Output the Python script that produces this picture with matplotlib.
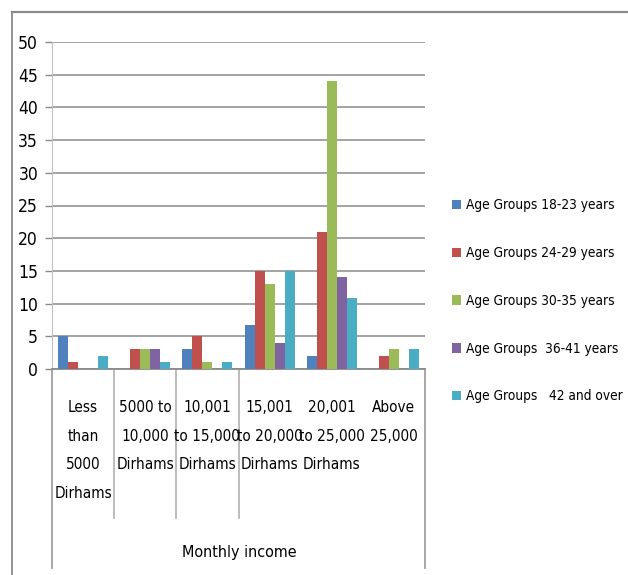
import os
import matplotlib
matplotlib.use("Agg")
import matplotlib.pyplot as plt
from matplotlib import font_manager
from matplotlib.font_manager import FontProperties
from matplotlib.patches import Patch
from matplotlib.lines import Line2D
import matplotlib.transforms as mtransforms
import numpy as np

# --- data -------------------------------------------------------------
categories = [
    "Less\nthan\n5000\nDirhams",
    "5000 to\n10,000\nDirhams",
    "10,001\nto 15,000\nDirhams",
    "15,001\nto 20,000\nDirhams",
    "20,001\nto 25,000\nDirhams",
    "Above\n25,000",
]
series_labels = [
    "Age Groups 18-23 years",
    "Age Groups 24-29 years",
    "Age Groups 30-35 years",
    "Age Groups  36-41 years",
    "Age Groups   42 and over",
]
age_18_23 = [5, 0, 3, 6.8, 2, 0]
age_24_29 = [1, 3, 5, 15, 21, 2]
age_30_35 = [0, 3, 1, 13, 44, 3]
age_36_41 = [0, 3, 0, 4, 14, 0]
age_42_up = [2, 1, 1, 15, 10.8, 3]
y_ticks = list(range(0, 51, 5))
axis_title = "Monthly income"

colors = ["#4F81BD", "#C0504D", "#9BBB59", "#8064A2", "#4BACC6"]


# --- fonts: prefer a narrow / condensed sans face --------------------
def find_narrow_font():
    skip = ("bold", "italic", "oblique", "light", "black", "thin",
            "medium", "semibold", "extrabold", "heavy", "extralight")
    files = font_manager.findSystemFonts() + [f.fname for f in font_manager.fontManager.ttflist]
    best = None
    best_rank = 99
    prefs = ["liberationsansnarrow", "dejavusanscondensed", "notosans-condensed",
             "opensans-condensed", "opensanscondensed", "roboto-condensed",
             "robotocondensed", "notosanscondensed", "notosans-semicondensed",
             "condensed", "narrow"]
    for f in set(files):
        base = os.path.basename(f).lower().replace("_", "").replace(" ", "")
        stem = base.rsplit(".", 1)[0]
        if any(k in stem.replace("condensed", "").replace("narrow", "") for k in skip):
            continue
        for r, p in enumerate(prefs):
            if p in base:
                if r < best_rank:
                    best, best_rank = f, r
                break
    return best


narrow = find_narrow_font()
if narrow:
    def fp(size):
        return FontProperties(fname=narrow, size=size)
    scale = 1.0
else:
    def fp(size):
        return FontProperties(family="Liberation Sans", size=size)
    scale = 0.95

W, H = 628, 575
fig = plt.figure(figsize=(W / 100, H / 100), dpi=100)


def fx(px):
    return px / W


def fy(py):
    return 1 - py / H


ax = fig.add_axes([fx(52), fy(369), fx(425) - fx(52), fy(42) - fy(369)])

series = [age_18_23, age_24_29, age_30_35, age_36_41, age_42_up]
n = len(series)
bw = 0.161
x = np.arange(len(categories))
for j, (vals, c) in enumerate(zip(series, colors)):
    ax.bar(x + (j - (n - 1) / 2) * bw, vals, width=bw, color=c,
           label=series_labels[j], zorder=3)

ax.set_xlim(-0.5, len(categories) - 0.5)
ax.set_ylim(0, 50)
ax.set_yticks(y_ticks)
ax.set_xticks([])
ax.yaxis.grid(True, color="#8a8a8a", linewidth=1.1, zorder=0)
ax.tick_params(axis="y", length=5, width=1, color="#8a8a8a", pad=5,
               labelcolor="#000000")
for lbl in ax.get_yticklabels():
    lbl.set_fontproperties(fp(12.5 * scale))
for s in ["top", "right"]:
    ax.spines[s].set_visible(False)
ax.spines["left"].set_color("#c0c0c0")
ax.spines["bottom"].set_color("#8a8a8a")
ax.spines["bottom"].set_linewidth(1.3)

# category labels and the table-style separators under the axis
trans = mtransforms.blended_transform_factory(ax.transData, fig.transFigure)
for i, lab in enumerate(categories):
    ax.text(i, fy(400), lab, transform=trans, ha="center", va="top",
            fontproperties=fp(11 * scale), linespacing=2.13 / scale,
            color="#000000")
for b in [0.5, 1.5, 2.5]:
    ax.add_line(Line2D([b, b], [fy(369), fy(518)], transform=trans,
                       color="#b0b0b0", linewidth=1.2, clip_on=False))
for b in [-0.5, len(categories) - 0.5]:
    ax.add_line(Line2D([b, b], [fy(369), fy(568)], transform=trans,
                       color="#a0a0a0", linewidth=1.3, clip_on=False))
fig.text(fx(239), fy(552), axis_title, ha="center", va="center",
         fontproperties=fp(11.5 * scale), color="#000000")

# outer chart frame (top and left edges)
fig.add_artist(Line2D([fx(12), fx(628)], [fy(12), fy(12)], color="#8a8a8a",
                      linewidth=1.6))
fig.add_artist(Line2D([fx(12), fx(12)], [fy(12), fy(575)], color="#8a8a8a",
                      linewidth=1.3))

# legend
handles = [Patch(facecolor=c, edgecolor="none") for c in colors]
fig.legend(handles, series_labels, loc="upper left",
           bbox_to_anchor=(fx(447), fy(193)), frameon=False,
           prop=fp(9.8 * scale), handlelength=0.6,
           handleheight=0.7, handletextpad=0.4,
           labelspacing=2.48, borderaxespad=0)

fig.savefig("out.png", dpi=100)
